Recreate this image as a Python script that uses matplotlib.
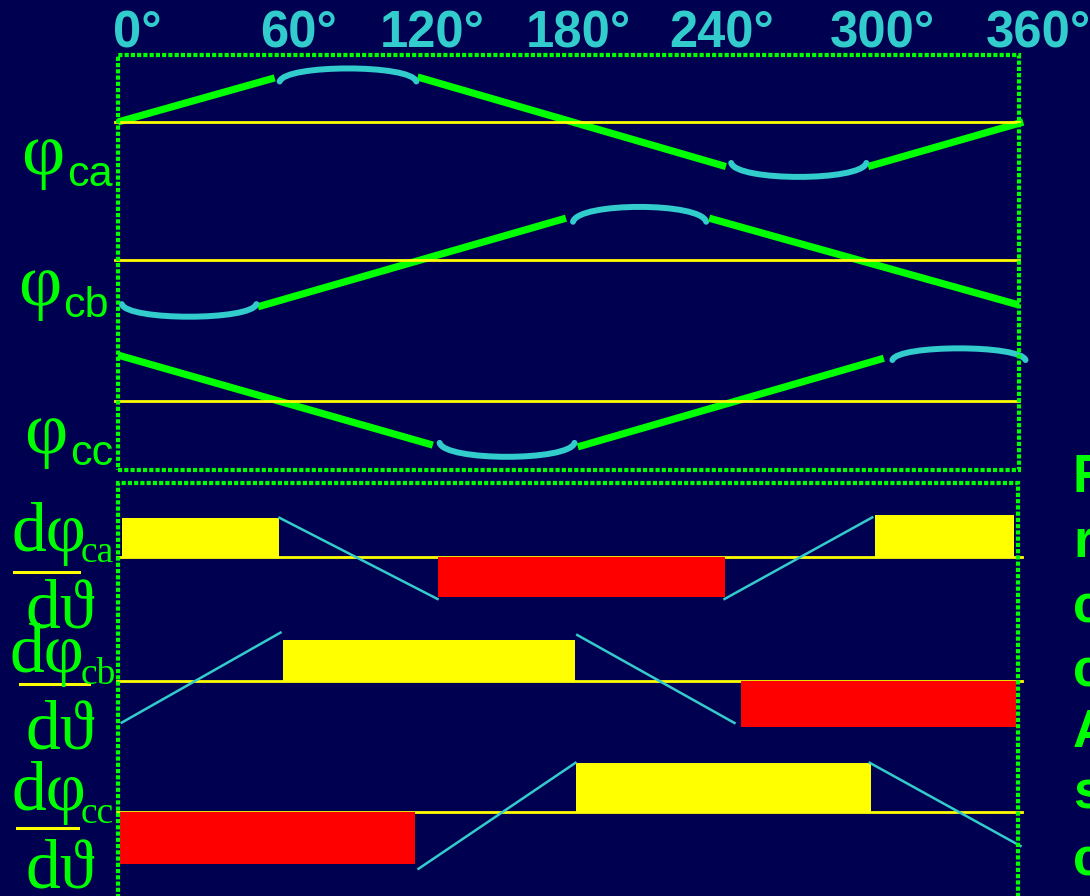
import matplotlib
matplotlib.use("Agg")
import matplotlib.pyplot as plt
from matplotlib.path import Path
from matplotlib.patches import PathPatch, Rectangle

# ==========================================================
# Chart Data
# ==========================================================

tick_degrees = [0, 60, 120, 180, 240, 300, 360]
tick_labels = ["0°", "60°", "120°", "180°", "240°", "300°", "360°"]
phase_names = ["ca", "cb", "cc"]

# flux linkage, straight parts (green): angle pairs and values
flux_line_deg = [
    [(0, 62.6), (119.7, 242.9), (299.7, 361.7)],
    [(55.9, 179.0), (236.2, 360.0)],
    [(0, 125.8), (183.7, 306.0)],
]
flux_line_val = [
    [(0.0, 0.98), (1.0, -0.99), (-0.99, 0.0)],
    [(-1.04, 0.93), (0.93, -1.0)],
    [(1.02, -0.98), (-1.02, 0.95)],
]

# flux linkage, rounded parts (cyan): angle span, value at ends, value in middle
flux_arc_deg = [
    [(64.6, 119.2), (245.0, 299.0)],
    [(1.5, 55.3), (181.8, 235.0)],
    [(128.5, 182.4), (309.4, 362.6)],
]
flux_arc_end = [[0.90, -0.91], [-0.98, 0.85], [-0.93, 0.91]]
flux_arc_mid = [[1.19, -1.22], [-1.26, 1.18], [-1.24, 1.17]]

# derivative, constant parts (bars): angle span and height
deriv_bar_deg = [
    [(1.6, 64.2), (128.1, 242.6), (302.9, 358.4)],
    [(65.8, 182.8), (249.0, 359.1)],
    [(0.8, 118.9), (183.2, 301.3)],
]
deriv_bar_val = [
    [0.98, -1.01, 1.05],
    [1.03, -1.15],
    [-1.30, 1.23],
]

# derivative, sloped parts (thin cyan lines)
deriv_ramp_deg = [
    [(64.6, 127.8), (242.6, 301.7)],
    [(1.5, 65.0), (183.7, 246.6)],
    [(120.2, 183.0), (300.7, 361.0)],
]
deriv_ramp_val = [
    [(0.98, -1.05), (-1.05, 0.99)],
    [(-1.04, 1.21), (1.15, -1.05)],
    [(-1.42, 1.23), (1.23, -0.85)],
]

right_letters = ["F", "r", "c", "c", "A", "s", "c"]

# ==========================================================
# Style / Layout
# ==========================================================

W, H = 1090, 896
BG = "#000050"
GREEN = "#00FF00"
CYAN = "#33CCCC"
YELLOW = "#FFFF00"
RED = "#FF0000"

top_base_px = [122, 260, 401]
bottom_base_px = [557, 681, 812]

fig = plt.figure(figsize=(W / 100, H / 100), dpi=100, facecolor=BG)


def fx(x):
    return x / W


def fy(y):
    return 1 - y / H


def phase_axes(base_px, unit_px, x0_px, x1_px):
    half = 1.5 * unit_px
    ax = fig.add_axes([fx(x0_px), fy(base_px + half),
                       (x1_px - x0_px) / W, 2 * half / H])
    ax.set_xlim(0, 360)
    ax.set_ylim(-1.5, 1.5)
    ax.axis("off")
    ax.patch.set_alpha(0)
    return ax


# ==========================================================
# Flux linkage panel
# ==========================================================

for i in range(3):
    ax = phase_axes(top_base_px[i], 45, 118, 1019)

    for (d0, d1), (v0, v1) in zip(flux_line_deg[i], flux_line_val[i]):
        ax.plot([d0, d1], [v0, v1], color=GREEN, lw=5.2,
                solid_capstyle="butt", clip_on=False, zorder=2)

    for (d0, d1), ve, vm in zip(flux_arc_deg[i], flux_arc_end[i], flux_arc_mid[i]):
        w = d1 - d0
        vc = (vm - 0.25 * ve) / 0.75
        verts = [(d0, ve), (d0 + 0.04 * w, vc), (d1 - 0.04 * w, vc), (d1, ve)]
        codes = [Path.MOVETO, Path.CURVE4, Path.CURVE4, Path.CURVE4]
        ax.add_patch(PathPatch(Path(verts, codes), fill=False, edgecolor=CYAN,
                               lw=4.3, capstyle="round", clip_on=False, zorder=2))

    ax.plot([-1, 360], [0, 0], color=YELLOW, lw=2, clip_on=False, zorder=3)

# ==========================================================
# Derivative panel
# ==========================================================

for i in range(3):
    ax = phase_axes(bottom_base_px[i], 40, 118, 1018)

    ax.plot([-0.5, 361.5], [0, 0], color=YELLOW, lw=2, clip_on=False, zorder=1)

    for (d0, d1), v in zip(deriv_bar_deg[i], deriv_bar_val[i]):
        ax.bar(d0, v, width=d1 - d0, align="edge",
               color=YELLOW if v > 0 else RED, clip_on=False, zorder=2)

    for (d0, d1), (v0, v1) in zip(deriv_ramp_deg[i], deriv_ramp_val[i]):
        ax.plot([d0, d1], [v0, v1], color=CYAN, lw=1.8, clip_on=False, zorder=3)

# ==========================================================
# Dotted frames
# ==========================================================

frame_style = dict(fill=False, edgecolor=GREEN, lw=3,
                   linestyle=(0, (1, 0.5)), transform=fig.transFigure, zorder=5)
fig.add_artist(Rectangle((fx(118), fy(470)), (1019 - 118) / W, (470 - 55) / H,
                         **frame_style))
fig.add_artist(Rectangle((fx(118), fy(910)), (1018 - 118) / W, (910 - 483) / H,
                         **frame_style))

# ==========================================================
# Texts
# ==========================================================

tick_label_px = [137, 298, 432, 578, 722, 882, 1038]
for lab, x in zip(tick_labels, tick_label_px):
    fig.text(fx(x), fy(47), lab, color=CYAN, fontsize=36.5, fontweight="bold",
             family="Liberation Sans", ha="center", va="baseline")

serif = ["Liberation Serif", "DejaVu Serif"]

phi_left = [21, 18, 24]
phi_base = [174, 305, 453]
sub_left = [67, 63, 70]
sub_base = [186, 317, 465]
for i in range(3):
    fig.text(fx(phi_left[i]), fy(phi_base[i]), "φ", color=GREEN, fontsize=54,
             family=serif, va="baseline")
    fig.text(fx(sub_left[i]), fy(sub_base[i]), phase_names[i], color=GREEN,
             fontsize=31, family="Liberation Sans", va="baseline")

d_left = [12, 10, 12]
d_base = [551, 672, 810]
dsub_base = [562, 684, 823]
bar_x = [(14, 79), (20, 89), (17, 78)]
bar_y = [572, 684, 828]
dt_base = [627, 748, 887]
for i in range(3):
    fig.text(fx(d_left[i]), fy(d_base[i]), "dφ", color=GREEN, fontsize=50,
             family=serif, va="baseline")
    fig.text(fx(81), fy(dsub_base[i]), phase_names[i], color=GREEN, fontsize=27,
             family=serif, va="baseline")
    fig.add_artist(plt.Line2D([fx(bar_x[i][0]), fx(bar_x[i][1])],
                              [fy(bar_y[i]), fy(bar_y[i])], color=YELLOW, lw=2.2,
                              transform=fig.transFigure))
    fig.text(fx(25), fy(dt_base[i]), "dϑ", color=GREEN, fontsize=50,
             family=serif, va="baseline")

letter_base = [492, 557, 622, 686, 747, 808, 875]
for ch, y in zip(right_letters, letter_base):
    fig.text(fx(1073), fy(y), ch, color=GREEN, fontsize=38, fontweight="bold",
             family="Liberation Sans", va="baseline")

plt.savefig("out.png", dpi=100, facecolor=BG)
